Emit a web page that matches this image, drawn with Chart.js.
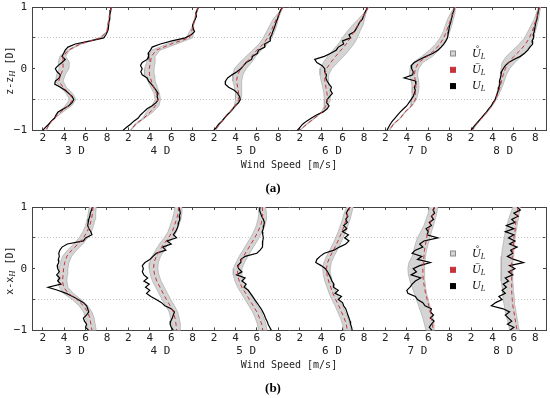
<!DOCTYPE html>
<html><head><meta charset="utf-8">
<script src="https://cdn.jsdelivr.net/npm/chart.js@4.4.1/dist/chart.umd.min.js"></script>
<style>
html,body{margin:0;padding:0;background:#fff;}
#wrap{position:relative;width:550px;height:398px;overflow:hidden;}
.panel{position:absolute;left:0;width:550px;height:199px;}
</style></head><body>
<div id="wrap">
<div class="panel" style="top:0"><canvas id="ca"></canvas></div>
<div class="panel" style="top:200px"><canvas id="cb"></canvas></div>
</div>
<script>
// ---------- data ----------
const heightsFine = [1,0.95,0.9,0.85,0.8,0.75,0.7,0.65,0.6,0.55,0.5,0.45,0.4,0.35,0.3,0.25,0.2,0.15,0.1,0.05,0,-0.05,-0.1,-0.15,-0.2,-0.25,-0.3,-0.35,-0.4,-0.45,-0.5,-0.55,-0.6,-0.65,-0.7,-0.75,-0.8,-0.85,-0.9,-0.95,-1];
const heightsCoarse = [1,0.9,0.8,0.7,0.6,0.5,0.4,0.3,0.2,0.1,0,-0.1,-0.2,-0.3,-0.4,-0.5,-0.6,-0.7,-0.8,-0.9,-1];
const distanceLabels = ['3 D','4 D','5 D','6 D','7 D','8 D'];
const speedTicks = [2,4,6,8];
const distanceTickCenter = [5];
const heightTicks = [-1,-0.5,0,0.5,1];
const gridHeights = [-0.5,0.5];
const legendLabels = ['Ů','Ū','U'];

// panel (a): vertical profiles
const measuredA = [
 [8.38,8.35,8.29,8.23,8.26,8.17,8.1,8.17,8.04,7.9,7.7,6.45,5.05,4.36,4.1,3.96,3.8,4.1,3.8,3.43,3.18,3.34,3.65,3.55,3.18,3.12,3.65,4.1,4.43,4.74,4.9,4.74,4.43,3.96,3.43,3.24,3.12,2.8,2.56,2.25,2.0],
 [8.55,8.43,8.3,8.36,8.24,8.09,7.99,8.05,8.18,7.87,7.31,6.07,4.99,4.22,4.06,3.84,3.9,3.75,3.29,3.13,3.29,3.16,3.29,3.75,3.9,4.15,4.37,4.59,4.77,4.68,4.77,4.59,4.22,3.75,3.44,3.13,2.92,2.51,2.2,1.83,1.49],
 [8.41,8.22,8.1,8.0,7.91,7.79,7.7,7.6,7.48,7.39,7.23,7.25,6.7,6.75,6.15,6.05,5.6,5.5,5.0,4.75,4.5,4.14,3.67,3.27,3.08,3.05,3.36,3.89,4.2,4.38,4.45,4.29,3.98,3.76,3.52,3.21,2.96,2.74,2.43,2.22,1.97],
 [8.36,8.21,8.06,7.96,7.84,7.59,7.44,7.28,7.1,6.6,6.75,6.0,6.1,5.6,5.4,4.9,4.3,3.4,3.6,4.1,4.34,4.34,4.5,4.43,4.56,4.74,4.96,4.87,5.05,4.8,4.56,4.5,4.74,4.56,4.19,3.57,3.1,2.64,2.27,2.02,1.77],
 [8.45,8.4,8.3,8.25,8.15,8.1,8.0,7.95,7.9,7.85,7.8,7.65,7.45,7.2,6.9,6.45,5.8,5.2,4.7,4.4,4.45,4.6,4.55,3.75,4.8,4.85,4.7,4.8,4.7,4.6,4.4,4.2,4.0,3.7,3.4,3.15,2.9,2.65,2.45,2.3,2.15],
 [8.35,8.3,8.25,8.2,8.15,8.05,8.0,7.95,7.9,7.8,7.85,7.7,7.75,7.5,7.3,7.0,6.6,6.0,5.5,5.2,5.0,4.85,4.8,4.75,4.65,4.7,4.6,4.55,4.45,4.35,4.25,4.05,3.9,3.65,3.45,3.2,2.95,2.7,2.45,2.2,2.0]
];
const meanA = [
 [8.4,8.3,8.2,8.1,8.0,7.4,5.5,4.4,3.9,3.9,3.9,3.7,3.5,3.9,4.5,4.8,4.4,3.7,3.1,2.6,2.3],
 [8.5,8.35,8.2,8.05,7.9,7.7,6.0,4.6,4.15,4.06,3.95,3.97,4.15,4.37,4.62,4.77,4.53,4.06,3.44,2.67,2.2],
 [8.41,8.1,7.8,7.55,7.3,7.0,6.6,6.0,5.5,5.0,4.5,4.2,4.1,4.2,4.3,4.3,4.0,3.5,3.0,2.5,2.1],
 [8.4,8.1,7.75,7.4,7.05,6.75,6.35,5.85,5.35,4.9,4.5,4.35,4.35,4.45,4.55,4.6,4.45,4.1,3.4,2.65,2.0],
 [8.5,8.3,8.1,7.9,7.7,7.45,7.1,6.6,5.9,5.1,4.8,4.7,4.8,4.85,4.8,4.8,4.45,3.85,3.4,2.75,2.35],
 [8.4,8.25,8.1,7.9,7.7,7.45,7.1,6.6,6.0,5.5,5.2,5.0,4.85,4.7,4.5,4.3,3.95,3.5,3.0,2.5,2.1]
];
const lowA = [
 [8.35,8.25,8.15,8.05,7.95,7.3,5.4,4.3,3.6,3.45,3.55,3.3,3.2,3.6,4.2,4.5,4.1,3.5,3.05,2.55,2.25],
 [8.45,8.3,8.15,8.0,7.7,7.4,5.6,4.2,3.8,3.7,3.5,3.5,3.8,4.1,4.4,4.5,4.2,3.7,3.35,2.6,2.15],
 [8.35,8.0,7.5,7.2,6.9,6.6,6.2,5.6,5.0,4.4,3.9,3.75,3.75,3.9,4.0,4.0,3.9,3.45,2.95,2.45,2.05],
 [8.35,8.0,7.45,6.9,6.4,6.0,5.6,5.1,4.6,4.2,3.9,3.9,4.0,4.15,4.25,4.3,4.3,4.05,3.35,2.6,1.95],
 [8.45,8.1,7.8,7.6,7.4,7.1,6.7,6.1,5.4,4.6,4.3,4.25,4.4,4.5,4.5,4.45,4.4,3.8,3.35,2.7,2.3],
 [8.3,8.1,7.9,7.6,7.3,7.0,6.5,5.9,5.3,4.9,4.8,4.75,4.65,4.55,4.4,4.25,3.9,3.45,2.95,2.45,2.05]
];
const highA = [
 [8.45,8.35,8.25,8.15,8.05,7.5,5.6,4.5,4.15,4.5,4.45,4.1,3.9,4.2,4.8,5.1,4.7,3.9,3.15,2.65,2.35],
 [8.55,8.4,8.25,8.1,8.1,8.0,6.5,4.95,4.5,4.5,4.4,4.45,4.5,4.7,4.9,5.0,4.85,4.3,3.55,2.75,2.25],
 [8.45,8.2,8.0,7.85,7.65,7.4,7.0,6.4,5.9,5.5,5.0,4.7,4.55,4.6,4.6,4.5,4.1,3.55,3.05,2.55,2.15],
 [8.45,8.2,8.05,7.9,7.6,7.4,7.05,6.6,6.1,5.55,5.0,4.7,4.65,4.75,4.85,4.9,4.6,4.15,3.45,2.7,2.05],
 [8.55,8.5,8.35,8.2,8.0,7.8,7.5,7.0,6.4,5.5,5.1,5.0,5.1,5.15,5.05,4.9,4.5,3.9,3.45,2.8,2.4],
 [8.5,8.4,8.3,8.15,8.0,7.85,7.6,7.2,6.7,6.1,5.6,5.3,5.1,4.9,4.65,4.35,4.0,3.55,3.05,2.55,2.15]
];

// panel (b): lateral profiles
const measuredB = [
 [6.65,6.55,6.45,6.4,6.3,6.25,6.2,6.3,6.5,6.6,6.0,5.8,4.3,3.8,3.6,3.5,3.55,3.45,3.5,3.35,3.4,3.55,3.3,3.6,3.4,3.7,2.5,3.4,4.2,4.8,5.3,5.8,6.1,6.2,6.3,6.1,5.8,5.9,6.1,6.0,6.3],
 [6.7,6.8,6.85,6.75,6.8,6.7,6.65,6.55,6.4,6.2,6.5,5.6,6.0,5.2,5.5,4.6,4.3,4.0,3.55,3.3,3.4,3.3,3.45,3.8,3.45,3.95,3.6,4.0,3.7,4.1,4.6,5.1,5.4,6.0,6.3,6.2,6.1,5.95,5.9,6.0,6.2],
 [6.3,6.25,6.35,6.45,6.6,6.7,6.65,6.6,6.5,6.55,6.6,6.55,6.5,6.55,6.3,6.0,4.9,4.5,4.5,4.2,4.3,4.6,4.1,4.9,4.6,5.0,4.8,5.2,5.4,5.6,5.8,6.0,6.2,6.4,6.55,6.7,6.8,6.95,7.05,7.2,7.35],
 [6.7,6.5,6.35,6.5,6.3,6.45,6.1,6.4,6.0,6.55,6.2,6.6,6.3,5.7,5.2,4.3,3.9,3.6,3.5,4.0,4.4,4.6,4.75,4.9,5.0,5.2,5.15,5.6,5.3,5.9,5.6,6.0,6.1,6.3,6.4,6.5,6.6,6.7,6.75,6.85,6.9],
 [6.6,6.45,6.6,6.3,6.5,6.1,6.3,5.8,6.0,5.9,6.9,5.6,5.2,5.5,4.8,4.5,5.4,5.0,6.2,5.2,4.6,4.9,4.4,5.3,4.8,4.5,4.3,4.0,4.1,4.8,5.0,5.5,5.7,6.3,6.2,6.5,6.2,6.55,6.3,6.1,6.35],
 [6.3,6.6,6.0,6.4,5.8,6.1,5.3,6.0,5.2,6.0,5.5,6.1,5.6,6.3,5.7,5.9,5.4,6.0,6.9,5.6,6.1,5.5,5.9,5.2,5.5,5.0,5.3,4.9,5.2,4.6,4.9,4.3,3.9,5.0,5.6,5.2,5.5,5.8,5.4,6.0,5.6]
];
const meanB = [
 [6.7,6.65,6.55,6.4,6.15,5.8,5.3,4.7,4.25,4.05,3.95,3.9,3.85,3.95,4.4,5.2,5.8,6.2,6.4,6.5,6.6],
 [6.7,6.65,6.5,6.3,6.1,5.75,5.3,4.95,4.6,4.4,4.35,4.45,4.65,4.95,5.25,5.55,5.9,6.2,6.35,6.45,6.5],
 [6.5,6.55,6.5,6.35,6.1,5.8,5.45,5.1,4.75,4.45,4.2,4.2,4.35,4.6,4.95,5.3,5.65,6.0,6.25,6.45,6.55],
 [6.7,6.5,6.35,6.15,5.95,5.7,5.45,5.15,4.85,4.6,4.5,4.55,4.7,4.9,5.1,5.35,5.65,5.9,6.15,6.35,6.45],
 [6.6,6.45,6.3,6.15,6.0,5.85,5.75,5.65,5.6,5.55,5.5,5.5,5.55,5.65,5.75,5.9,6.05,6.2,6.3,6.4,6.45],
 [6.4,6.3,6.2,6.15,6.1,6.0,5.95,5.9,5.85,5.8,5.8,5.8,5.8,5.8,5.8,5.85,5.9,6.0,6.1,6.2,6.3]
];
const lowB = [
 [6.35,6.25,6.15,6.0,5.75,5.4,4.9,4.3,3.85,3.65,3.55,3.5,3.45,3.55,3.95,4.75,5.4,5.8,6.0,6.1,6.2],
 [6.35,6.25,6.1,5.9,5.7,5.35,4.9,4.55,4.2,4.0,3.95,4.05,4.25,4.55,4.85,5.15,5.5,5.8,5.95,6.05,6.1],
 [6.2,6.2,6.1,5.95,5.7,5.4,5.05,4.7,4.35,4.05,3.8,3.8,3.95,4.2,4.55,4.9,5.25,5.6,5.85,6.05,6.15],
 [6.4,6.15,6.0,5.8,5.6,5.35,5.1,4.8,4.5,4.25,4.15,4.2,4.35,4.55,4.75,5.0,5.3,5.55,5.8,6.0,6.1],
 [6.1,6.0,5.8,5.6,5.3,5.0,4.8,4.65,4.5,4.2,4.1,4.15,4.3,4.5,4.7,4.9,5.1,5.3,5.5,5.65,5.8],
 [5.9,5.7,5.5,5.35,5.2,5.1,5.0,4.9,4.85,4.8,4.8,4.8,4.85,4.9,4.95,5.0,5.1,5.2,5.35,5.5,5.6]
];
const highB = [
 [7.0,6.95,6.9,6.75,6.55,6.2,5.75,5.15,4.7,4.45,4.35,4.3,4.25,4.35,4.85,5.6,6.2,6.6,6.8,6.9,7.0],
 [7.0,7.0,6.9,6.7,6.5,6.15,5.7,5.35,5.0,4.8,4.75,4.85,5.05,5.35,5.65,5.95,6.3,6.6,6.75,6.85,6.9],
 [6.8,6.9,6.9,6.75,6.5,6.2,5.85,5.5,5.15,4.85,4.6,4.6,4.75,5.0,5.35,5.7,6.05,6.4,6.65,6.85,6.95],
 [7.0,6.85,6.7,6.5,6.3,6.05,5.8,5.5,5.2,4.95,4.85,4.9,5.05,5.25,5.45,5.7,6.0,6.25,6.5,6.7,6.8],
 [6.9,6.8,6.65,6.5,6.3,6.15,6.0,5.85,5.75,5.7,5.65,5.65,5.7,5.75,5.85,6.0,6.15,6.3,6.45,6.55,6.6],
 [6.6,6.5,6.4,6.3,6.2,6.1,6.05,6.0,5.95,5.9,5.9,5.9,5.9,5.95,6.0,6.05,6.1,6.2,6.3,6.4,6.5]
];

// ---------- styling / layout ----------
const SPAN = 8;          // width of one sub-profile on the shared axis
const X_MIN = 1, X_MAX = 49;
const INK = '#222';
const FRAME = '#444';
const RED = '#c8323a';
const MONO = "'DejaVu Sans Mono', monospace";
const SERIF = "'Liberation Serif', 'DejaVu Serif', serif";

function repeated(localVals){
  const out = [];
  distanceLabels.forEach((_, i) => localVals.forEach(v => out.push(v + SPAN * i)));
  return out;
}
function localLabel(v){ return String(Math.round(v - SPAN * Math.floor((v - X_MIN) / SPAN))); }

const axisTitlePlugin = {
  id: 'axisTitle',
  afterDraw(chart, args, opts) {
    const {ctx, chartArea} = chart;
    ctx.save();
    ctx.translate(10, (chartArea.top + chartArea.bottom) / 2 + 2);
    ctx.rotate(-Math.PI / 2);
    ctx.fillStyle = INK;
    ctx.textBaseline = 'middle';
    const main = '10px ' + MONO;
    const sub = 'italic 8.5px ' + SERIF;
    const parts = [[opts.letter + '-' + opts.letter, main, 0], ['H', sub, 3], [' [D]', main, 0]];
    let total = 0;
    parts.forEach(p => { ctx.font = p[1]; total += ctx.measureText(p[0]).width; });
    let x = -total / 2;
    parts.forEach(p => { ctx.font = p[1]; ctx.fillText(p[0], x, p[2]); x += ctx.measureText(p[0]).width; });
    ctx.restore();
  }
};

const legendPlugin = {
  id: 'innerLegend',
  afterDatasetsDraw(chart) {
    const {ctx, chartArea} = chart;
    const fills = ['#d3d3d3', RED, '#000'];
    const strokes = ['#8a8a8a', RED, '#000'];
    ctx.save();
    legendLabels.forEach((lab, k) => {
      const cy = chartArea.top + 46.5 + k * 16.3;
      ctx.fillStyle = fills[k];
      ctx.fillRect(450.5, cy - 2.5, 5, 5);
      ctx.strokeStyle = strokes[k];
      ctx.lineWidth = 1;
      ctx.strokeRect(450.5, cy - 2.5, 5, 5);
      ctx.fillStyle = '#111';
      ctx.textBaseline = 'middle';
      ctx.font = 'italic 12px ' + SERIF;
      ctx.fillText(lab, 472, cy);
      const w = ctx.measureText(lab).width;
      ctx.font = 'italic 8px ' + SERIF;
      ctx.fillText('L', 472 + w, cy + 3);
    });
    ctx.restore();
  }
};

function makeChart(id, measured, mean, low, high, letter, panelLabel) {
  const datasets = [];
  distanceLabels.forEach((_, i) => {
    const off = SPAN * i;
    const lowPts = heightsCoarse.map((h, k) => ({x: low[i][k] + off, y: h}));
    const highPts = heightsCoarse.map((h, k) => ({x: high[i][k] + off, y: h})).reverse();
    datasets.push({data: lowPts.concat(highPts), showLine: true, fill: 'shape',
      backgroundColor: '#d4d4d4', borderColor: '#ababab', borderWidth: 0.7, pointRadius: 0, order: 3});
    datasets.push({data: heightsCoarse.map((h, k) => ({x: mean[i][k] + off, y: h})), showLine: true, fill: false,
      borderColor: RED, borderWidth: 1, borderDash: [4, 3], pointRadius: 0, order: 1});
    datasets.push({data: heightsFine.map((h, k) => ({x: measured[i][k] + off, y: h})), showLine: true, fill: false,
      borderColor: '#000', borderWidth: 1.2, pointRadius: 0, order: 2});
  });
  const tickFont = {family: MONO, size: 11};
  const inward = {drawOnChartArea: false, drawTicks: true, tickLength: -3, tickColor: FRAME, tickWidth: 1};
  return new Chart(document.getElementById(id), {
    type: 'scatter',
    data: {datasets},
    options: {
      responsive: true, maintainAspectRatio: false, animation: false,
      layout: {padding: {top: 7, right: 4, left: 0, bottom: 0}},
      plugins: {
        legend: {display: false}, tooltip: {enabled: false},
        title: {display: true, text: panelLabel, position: 'bottom', color: '#000',
          font: {family: SERIF, size: 13, weight: 'bold'}, padding: {top: 8, bottom: 3}},
        axisTitle: {letter}
      },
      scales: {
        x: {type: 'linear', position: 'bottom', weight: 0, min: X_MIN, max: X_MAX,
          afterBuildTicks: s => { s.ticks = repeated(speedTicks).map(v => ({value: v})); },
          ticks: {callback: v => localLabel(v), font: tickFont, color: INK, padding: 4, maxRotation: 0, autoSkip: false},
          grid: inward, border: {display: true, color: FRAME, width: 1},
          afterFit: s => { s.height = 14; }},
        xd: {type: 'linear', position: 'bottom', weight: 1, min: X_MIN, max: X_MAX,
          afterBuildTicks: s => { s.ticks = repeated(distanceTickCenter).map(v => ({value: v})); },
          ticks: {callback: (v, idx) => distanceLabels[idx], font: {family: MONO, size: 11}, color: INK, padding: 0, maxRotation: 0, autoSkip: false},
          grid: {display: false, drawTicks: false}, border: {display: false},
          title: {display: true, text: 'Wind Speed [m/s]', color: INK, font: {family: MONO, size: 10}, padding: {top: 0, bottom: 1}},
          afterFit: s => { s.height = 28; }},
        xt: {type: 'linear', position: 'top', min: X_MIN, max: X_MAX,
          afterBuildTicks: s => { s.ticks = repeated(speedTicks).map(v => ({value: v})); },
          ticks: {display: false}, grid: inward, border: {display: true, color: FRAME, width: 1},
          afterFit: s => { s.height = 0; }},
        y: {type: 'linear', position: 'left', min: -1, max: 1,
          afterBuildTicks: s => { s.ticks = heightTicks.map(v => ({value: v})); },
          ticks: {callback: v => (v === 1 ? '1' : v === 0 ? '0' : v === -1 ? '\u22121' : ''), font: tickFont, color: INK, padding: 8},
          grid: inward, border: {display: true, color: FRAME, width: 1},
          afterFit: s => { s.width = 32; s.paddingTop = 0; s.paddingBottom = 0; }},
        yr: {type: 'linear', position: 'right', min: -1, max: 1,
          afterBuildTicks: s => { s.ticks = heightTicks.map(v => ({value: v})); },
          ticks: {display: false}, grid: inward, border: {display: true, color: FRAME, width: 1},
          afterFit: s => { s.width = 0; }},
        yg: {type: 'linear', position: 'right', min: -1, max: 1,
          afterBuildTicks: s => { s.ticks = gridHeights.map(v => ({value: v})); },
          ticks: {display: false},
          grid: {drawOnChartArea: true, drawTicks: false, color: '#c4c4c4', lineWidth: 1},
          border: {display: false, dash: [1, 2]},
          afterFit: s => { s.width = 0; }}
      }
    },
    plugins: [axisTitlePlugin, legendPlugin]
  });
}

makeChart('ca', measuredA, meanA, lowA, highA, 'z', '(a)');
makeChart('cb', measuredB, meanB, lowB, highB, 'x', '(b)');
</script>
</body></html>
